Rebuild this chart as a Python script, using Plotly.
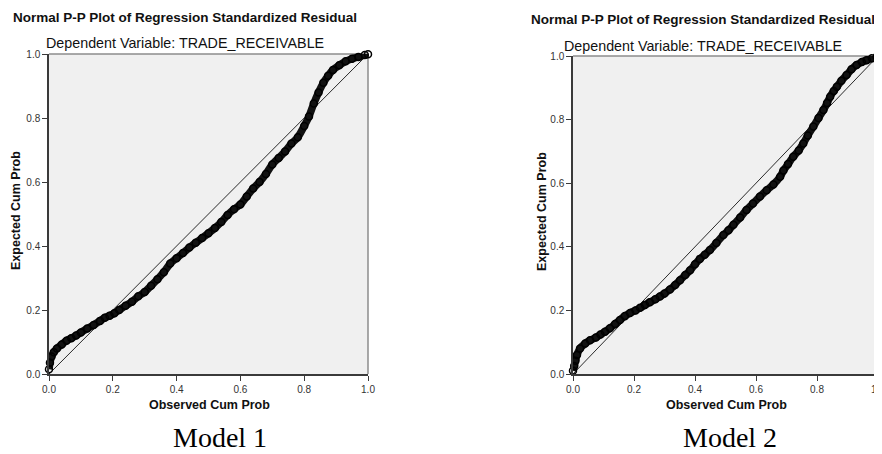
import plotly.graph_objects as go

# Model 1: observed vs expected cumulative probabilities
m1_observed = [0.000, 0.003, 0.008, 0.015, 0.025, 0.040, 0.055, 0.070, 0.085, 0.100,
               0.120, 0.140, 0.160, 0.175, 0.190, 0.205, 0.220, 0.240, 0.260, 0.280,
               0.300, 0.320, 0.340, 0.360, 0.380, 0.400, 0.420, 0.440, 0.460, 0.480,
               0.500, 0.520, 0.540, 0.560, 0.580, 0.600, 0.620, 0.640, 0.660, 0.680,
               0.700, 0.720, 0.740, 0.760, 0.780, 0.800, 0.815, 0.830, 0.845, 0.860,
               0.875, 0.890, 0.910, 0.930, 0.950, 0.970, 0.990, 1.000]
m1_expected = [0.015, 0.035, 0.055, 0.068, 0.080, 0.092, 0.104, 0.112, 0.120, 0.130,
               0.142, 0.153, 0.166, 0.176, 0.182, 0.190, 0.200, 0.213, 0.226, 0.243,
               0.256, 0.276, 0.296, 0.318, 0.345, 0.362, 0.378, 0.395, 0.410, 0.425,
               0.440, 0.456, 0.475, 0.497, 0.515, 0.530, 0.555, 0.580, 0.600, 0.625,
               0.655, 0.675, 0.695, 0.720, 0.740, 0.775, 0.805, 0.845, 0.880, 0.910,
               0.932, 0.950, 0.965, 0.977, 0.985, 0.991, 0.997, 0.999]

# Model 2
m2_observed = [0.000, 0.004, 0.008, 0.013, 0.023, 0.040, 0.056, 0.075, 0.090, 0.105,
               0.121, 0.138, 0.154, 0.170, 0.187, 0.205, 0.220, 0.236, 0.252, 0.270,
               0.285, 0.300, 0.318, 0.335, 0.351, 0.368, 0.384, 0.400, 0.416, 0.432,
               0.449, 0.470, 0.493, 0.510, 0.526, 0.548, 0.569, 0.590, 0.613, 0.635,
               0.657, 0.679, 0.690, 0.705, 0.722, 0.740, 0.755, 0.770, 0.788, 0.805,
               0.821, 0.833, 0.843, 0.855, 0.865, 0.880, 0.897, 0.913, 0.930, 0.947,
               0.963, 0.980, 0.996, 1.000]
m2_expected = [0.010, 0.025, 0.042, 0.060, 0.080, 0.096, 0.106, 0.115, 0.124, 0.133,
               0.144, 0.157, 0.170, 0.182, 0.192, 0.200, 0.208, 0.217, 0.226, 0.235,
               0.244, 0.253, 0.266, 0.280, 0.295, 0.311, 0.326, 0.345, 0.362, 0.375,
               0.390, 0.412, 0.437, 0.452, 0.469, 0.492, 0.516, 0.536, 0.558, 0.578,
               0.596, 0.620, 0.640, 0.660, 0.683, 0.703, 0.725, 0.750, 0.778, 0.805,
               0.830, 0.852, 0.872, 0.890, 0.903, 0.922, 0.940, 0.958, 0.972, 0.981,
               0.987, 0.993, 0.998, 0.999]

diag = [0.0, 1.0]
tick_vals = [0.0, 0.2, 0.4, 0.6, 0.8, 1.0]
tick_text = ["0.0", "0.2", "0.4", "0.6", "0.8", "1.0"]
main_title = "Normal P-P Plot of Regression Standardized Residual"
sub_title = "Dependent Variable: TRADE_RECEIVABLE"
x_title = "Observed Cum Prob"
y_title = "Expected Cum Prob"
captions = ["Model 1", "Model 2"]

W, H = 882, 454
OFF = 8  # page body margin offset
SANS = "Arial, Liberation Sans, sans-serif"
SERIF = "Times New Roman, Liberation Serif, serif"

def px(x):
    return (x - OFF) / W

def py(y):
    return 1 - (y - OFF) / H

fig = go.Figure()

panels = [
    dict(obs=m1_observed, exp=m1_expected, xa="x", ya="y",
         xdom=[px(49), px(368)], ydom=[py(374), py(54)],
         tcx=185, t1y=17, t2y=43, ytx=16, yty=211, xtx=209, xty=405, capx=220),
    dict(obs=m2_observed, exp=m2_expected, xa="x2", ya="y2",
         xdom=[px(573), px(878)], ydom=[py(374), py(56)],
         tcx=703, t1y=20, t2y=46, ytx=542, yty=212, xtx=726, xty=405, capx=730),
]

annotations = []
shapes = []
for i, p in enumerate(panels):
    fig.add_trace(go.Scatter(x=diag, y=diag, xaxis=p["xa"], yaxis=p["ya"], mode="lines",
                             line=dict(color="#2a2a2a", width=1), hoverinfo="skip",
                             showlegend=False))
    fig.add_trace(go.Scatter(x=p["obs"], y=p["exp"], xaxis=p["xa"], yaxis=p["ya"],
                             mode="lines+markers",
                             line=dict(color="#111111", width=7.5, shape="spline"),
                             marker=dict(symbol="circle-open", size=7, color="#000000",
                                         line=dict(color="#000000", width=1.5)),
                             showlegend=False, cliponaxis=False))
    suffix = "" if i == 0 else "2"
    axis_common = dict(range=[0, 1], showgrid=False, zeroline=False, showline=True,
                       linecolor="#3a3a3a", linewidth=1.5, ticks="outside", ticklen=5,
                       tickcolor="#3a3a3a", tickwidth=1, tickvals=tick_vals,
                       ticktext=tick_text, tickfont=dict(family=SANS, size=10, color="#333333"),
                       fixedrange=True, automargin=False)
    fig.layout["xaxis" + suffix] = dict(domain=p["xdom"], anchor="y" + suffix, **axis_common)
    fig.layout["yaxis" + suffix] = dict(domain=p["ydom"], anchor="x" + suffix, **axis_common)
    xr = ("x" + suffix) + " domain"
    yr = ("y" + suffix) + " domain"
    shapes.append(dict(type="line", xref=xr, yref=yr, x0=0, x1=1, y0=1, y1=1,
                       line=dict(color="#8c8c8c", width=1.5), layer="below"))
    shapes.append(dict(type="line", xref=xr, yref=yr, x0=1, x1=1, y0=0, y1=1,
                       line=dict(color="#8c8c8c", width=1.5), layer="below"))
    annotations += [
        dict(text="<b>" + main_title + "</b>", x=px(p["tcx"]), y=py(p["t1y"]),
             xref="paper", yref="paper", showarrow=False, xanchor="center", yanchor="middle",
             font=dict(family=SANS, size=13.5, color="#111111")),
        dict(text=sub_title, x=px(p["tcx"]), y=py(p["t2y"]),
             xref="paper", yref="paper", showarrow=False, xanchor="center", yanchor="middle",
             font=dict(family=SANS, size=14.3, color="#111111")),
        dict(text="<b>" + y_title + "</b>", x=px(p["ytx"]), y=py(p["yty"]), textangle=-90,
             xref="paper", yref="paper", showarrow=False, xanchor="center", yanchor="middle",
             font=dict(family=SANS, size=12.5, color="#111111")),
        dict(text="<b>" + x_title + "</b>", x=px(p["xtx"]), y=py(p["xty"]),
             xref="paper", yref="paper", showarrow=False, xanchor="center", yanchor="middle",
             font=dict(family=SANS, size=12.5, color="#111111")),
        dict(text=captions[i], x=px(p["capx"]), y=py(437),
             xref="paper", yref="paper", showarrow=False, xanchor="center", yanchor="middle",
             font=dict(family=SERIF, size=28, color="#000000")),
    ]

fig.update_layout(width=W, height=H, margin=dict(l=0, r=0, t=0, b=0, autoexpand=False),
                  template="none",
                  paper_bgcolor="white", plot_bgcolor="#f0f0f0",
                  annotations=annotations, shapes=shapes, showlegend=False)

fig.write_html("out.html", config={"displayModeBar": False})
